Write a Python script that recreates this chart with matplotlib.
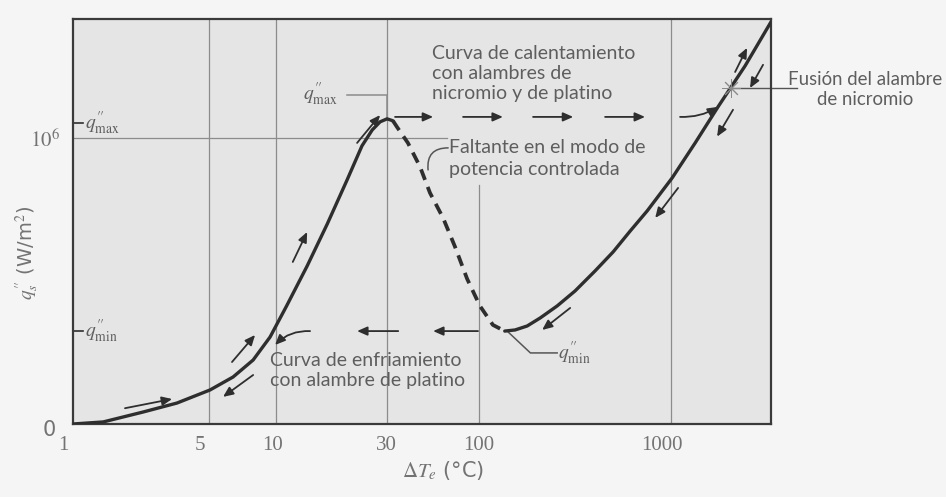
import numpy as np
import matplotlib
matplotlib.use("Agg")
import matplotlib.pyplot as plt
from matplotlib.ticker import NullLocator
from matplotlib.transforms import ScaledTranslation

plt.rcParams["mathtext.fontset"] = "stix"

# Boiling curve of water at 1 atm, excess temperature (°C) vs heat flux (W/m^2)
nucleate_dt = [1, 1.43, 2.29, 3.42, 5.05, 6.41, 7.89, 9.4, 11.1, 13.6, 16.6,
               20.2, 23.4, 25.9, 28.0, 30, 32.4]
nucleate_q = [1.24e4, 1.28e4, 1.49e4, 1.71e4, 2.09e4, 2.55e4, 3.31e4, 4.71e4,
              7.59e4, 1.40e5, 2.67e5, 5.25e5, 8.85e5, 1.13e6, 1.28e6, 1.34e6,
              1.30e6]
transition_dt = [32.4, 34.2, 39.4, 46.2, 52.6, 62.4, 73.0, 85.5, 101, 118, 136]
transition_q = [1.30e6, 1.18e6, 9.26e5, 6.41e5, 4.30e5, 2.93e5, 1.88e5,
                1.15e5, 7.59e4, 5.67e4, 5.16e4]
film_dt = [136, 154, 178, 208, 255, 316, 402, 499, 611, 750, 1012, 1334,
           1754, 2427, 3311]
film_q = [5.16e4, 5.25e4, 5.58e4, 6.31e4, 7.59e4, 9.55e4, 1.30e5, 1.74e5,
          2.39e5, 3.26e5, 5.41e5, 9.26e5, 1.61e6, 3.02e6, 5.93e6]

q_max = 1.26e6
q_min = 5.16e4
q_heating = 1.38e6
q_burnout = 2.15e6
dt_burnout = 2051

# heating jumps at q_max, cooling jumps at q_min (start, end of each arrow)
heating_arrows = [(33.3, 54.8), (81.1, 133), (191, 309), (453, 731)]
cooling_arrows = [(98.6, 54.8), (34.7, 22.3)]

# small arrows running alongside the curve
along_arrows = [
    ((1.85, 1.58e4), (3.23, 1.82e4)),
    ((6.34, 3.21e4), (8.05, 4.86e4)),
    ((7.89, 2.63e4), (5.78, 1.88e4)),
    ((11.8, 1.49e5), (13.6, 2.36e5)),
    ((22.3, 9.26e5), (28.0, 1.42e6)),
    ((1087, 4.64e5), (826, 2.93e5)),
    ((2100, 1.54e6), (1735, 1.02e6)),
    ((2153, 2.75e6), (2485, 3.98e6)),
    ((3010, 3.07e6), (2575, 2.15e6)),
    ((298, 7.36e4), (213, 5.25e4)),
]

xticks = [1, 5, 10, 30, 100, 1000]
xtick_labels = ["1", "5", "10", "30", "100", "1000"]
# small sideways nudges of the printed tick numbers (pixels)
xtick_nudge = [-10, -9, -4, -1, 0, -9]

# the ΔT axis is drawn with uneven decade spacing
scale_log = [-1, 0, np.log10(5), 1, np.log10(30), 2, 3, 5]
scale_pos = [-192, 0, 136, 203, 314, 406, 598, 982]


def forward(x):
    x = np.maximum(np.asarray(x, dtype=float), 1e-6)
    return np.interp(np.log10(x), scale_log, scale_pos)


def inverse(u):
    return 10 ** np.interp(u, scale_pos, scale_log)


ink = "#2e2e2e"
text_grey = "#5e5e5e"
tick_grey = "#737373"
grid_grey = "#8c8c8c"
sans = ["Lato", "DejaVu Sans"]
serif = ["Liberation Serif", "DejaVu Serif"]
QMAX = r"$q^{\prime\prime}_{\mathrm{max}}$"
QMIN = r"$q^{\prime\prime}_{\mathrm{min}}$"

fig = plt.figure(figsize=(9.46, 4.97), dpi=100, facecolor="#f5f5f5")
ax = fig.add_axes([73 / 946, 73 / 497, 698 / 946, 405 / 497])
ax.set_facecolor("#e5e5e5")
ax.set_xscale("function", functions=(forward, inverse))
ax.set_yscale("log")
ax.set_xlim(1, 3311)
ax.set_ylim(1.24e4, 6.2e6)

for s in ax.spines.values():
    s.set_color("#3a3a3a")
    s.set_linewidth(1.6)

ax.set_xticks(xticks)
ax.set_xticklabels(xtick_labels, fontfamily=serif, fontsize=15, color=tick_grey)
ax.set_yticks([1.24e4, 1e6])
ax.set_yticklabels(["0", "$10^6$"], fontsize=15, color=tick_grey)
ax.xaxis.set_minor_locator(NullLocator())
ax.yaxis.set_minor_locator(NullLocator())
ax.tick_params(axis="x", length=0, pad=9)
ax.tick_params(axis="y", length=0, pad=9)
for lab, dx in zip(ax.get_xticklabels(), xtick_nudge):
    lab.set_transform(lab.get_transform()
                      + ScaledTranslation(dx / 100, 0, fig.dpi_scale_trans))
zero_lab = ax.get_yticklabels()[0]
zero_lab.set_transform(zero_lab.get_transform()
                       + ScaledTranslation(-0.05, -0.04, fig.dpi_scale_trans))

# grid
for xv in [5, 10, 30, 1000]:
    ax.axvline(xv, color=grid_grey, lw=0.9, zorder=1)
ax.axvline(100, ymax=0.59, color=grid_grey, lw=0.9, zorder=1)
ax.axhline(1e6, xmax=0.536, color=grid_grey, lw=0.9, zorder=1)

# boiling curve
line_kw = dict(color=ink, lw=2.4, solid_capstyle="round",
               solid_joinstyle="round", zorder=3)
ax.plot(nucleate_dt, nucleate_q, **line_kw)
ax.plot(transition_dt, transition_q, color=ink, lw=2.7, ls=(0, (3, 2)),
        dash_joinstyle="round", zorder=3)
ax.plot(film_dt, film_q, **line_kw)

arrow_kw = dict(arrowstyle="-|>,head_length=0.5,head_width=0.22", color=ink,
                lw=1.3, mutation_scale=12, shrinkA=0, shrinkB=0)
for x0, x1 in heating_arrows:
    ax.annotate("", xy=(x1, q_heating), xytext=(x0, q_heating),
                arrowprops=arrow_kw)
ax.annotate("", xy=(1754, 1.61e6), xytext=(1113, q_heating),
            arrowprops=dict(arrow_kw, connectionstyle="arc3,rad=0.15"))
for x0, x1 in cooling_arrows:
    ax.annotate("", xy=(x1, q_min), xytext=(x0, q_min), arrowprops=arrow_kw)
ax.annotate("", xy=(9.9, 4.17e4), xytext=(14.0, q_min),
            arrowprops=dict(arrow_kw, connectionstyle="arc3,rad=0.22"))
for (x0, y0), (x1, y1) in along_arrows:
    ax.annotate("", xy=(x1, y1), xytext=(x0, y0), arrowprops=arrow_kw)

# q''max / q''min markers on the flux axis
ax.plot([1, 1.126], [q_max, q_max], color=ink, lw=1.2)
ax.plot([1, 1.126], [q_min, q_min], color=ink, lw=1.2)
ax.text(1.15, q_max, QMAX, fontsize=14, color=text_grey, va="center")
ax.text(1.15, q_min, QMIN, fontsize=14, color=text_grey, va="center")

# peak label
ax.plot([20.2, 30, 30], [1.94e6, 1.94e6, 1.34e6], color=grid_grey, lw=1.1)
ax.text(18.4, 1.94e6, QMAX, fontsize=14, color=text_grey, va="center",
        ha="right")

# minimum label
ax.plot([140, 185, 255], [q_min, 3.69e4, 3.69e4], color="#555555", lw=1.1)
ax.text(257, 3.69e4, QMIN, fontsize=14, color=text_grey, va="center")

ax.text(54.1, 2.69e6, "Curva de calentamiento\ncon alambres de\n"
        "nicromio y de platino", fontfamily=sans, fontsize=14,
        color=text_grey, va="center", linespacing=1.24)
ax.text(67.5, 7.3e5, "Faltante en el modo de\npotencia controlada",
        fontfamily=sans, fontsize=14, color=text_grey, va="center",
        linespacing=1.3)
ax.annotate("", xy=(51.3, 6.12e5), xytext=(66.7, 8.58e5),
            arrowprops=dict(arrowstyle="-", color="#555555", lw=1.1,
                            connectionstyle="arc3,rad=0.55",
                            shrinkA=0, shrinkB=0))
ax.text(9.4, 2.82e4, "Curva de enfriamiento\ncon alambre de platino",
        fontfamily=sans, fontsize=14, color=text_grey, va="center",
        linespacing=1.2)

# burnout of the nichrome wire
ax.scatter([dt_burnout], [q_burnout], marker=(8, 2, 0), s=160, lw=0.7,
           color="#8a8a8a", zorder=4)
ax.plot([dt_burnout, 4520], [q_burnout, q_burnout], color="#555555", lw=1.0,
        clip_on=False)
fig.text(865 / 946, 1 - 89.5 / 497, "Fusión del alambre\nde nicromio",
         fontfamily=sans, fontsize=13.4, color=text_grey, ha="center",
         va="center", multialignment="center", linespacing=1.25)

# axis titles
fig.text(27 / 946, 1 - 253 / 497, r"$q^{\prime\prime}_s$ (W/m$^2$)",
         rotation=90, fontsize=14, color=tick_grey, ha="center", va="center")
fig.text(443 / 946, 1 - 471 / 497, r"$\Delta T_e$ (°C)", fontsize=15,
         color=tick_grey, ha="center", va="center")

fig.savefig("out.png", dpi=100, facecolor=fig.get_facecolor())
